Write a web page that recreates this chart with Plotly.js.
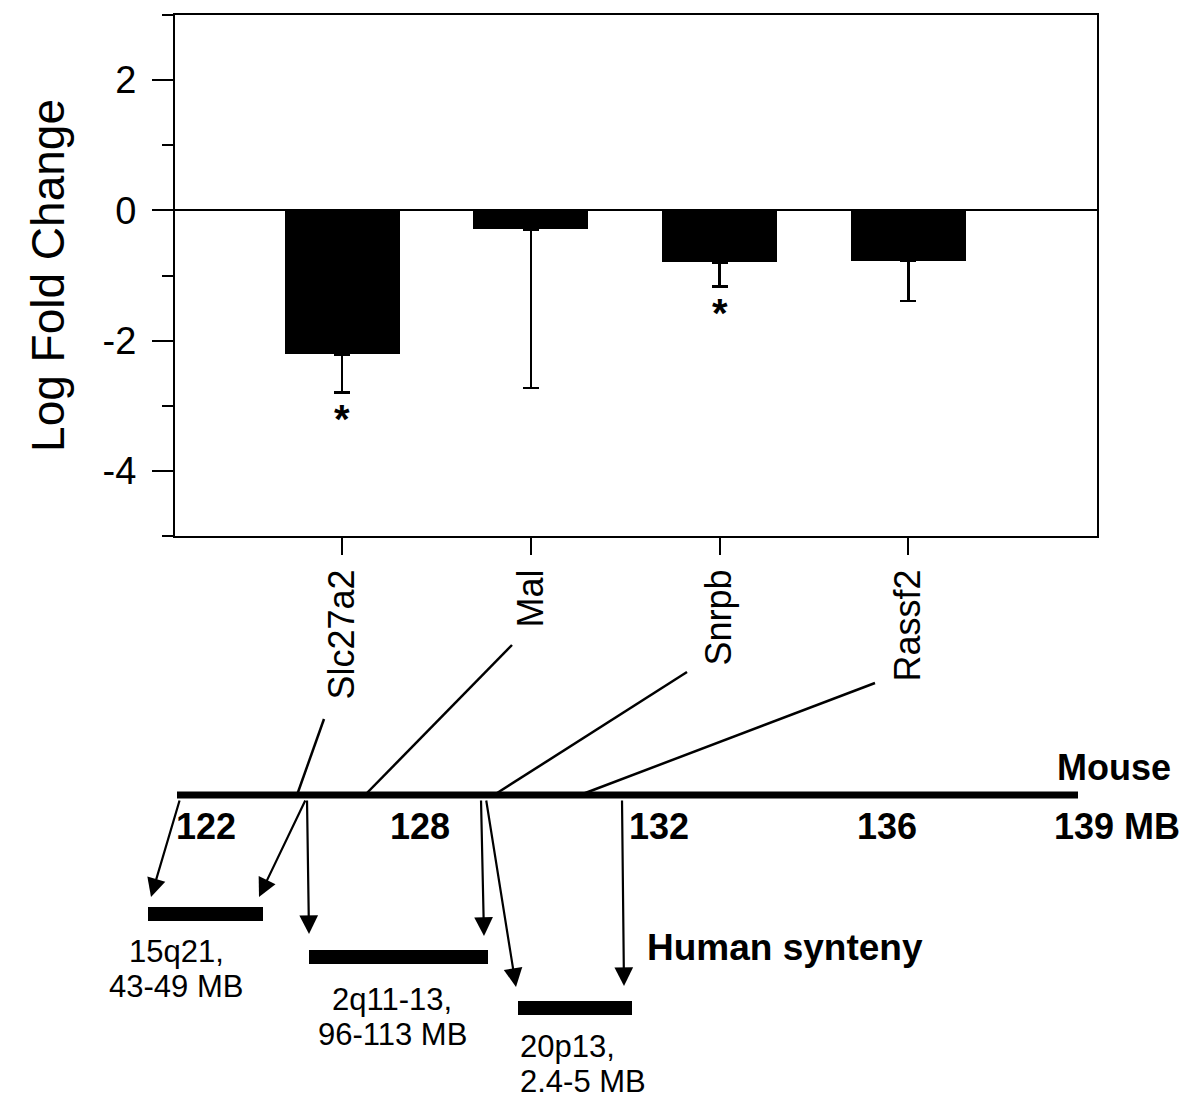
<!DOCTYPE html>
<html>
<head>
<meta charset="utf-8">
<script src="https://cdn.plot.ly/plotly-3.0.1.min.js"></script>
<style>html,body{margin:0;padding:0;background:#fff;}#chart{width:1200px;height:1118px;}</style>
</head>
<body>
<div id="chart"></div>
<script>
// ---- data ----
var genes = ['Slc27a2', 'Mal', 'Snrpb', 'Rassf2'];
var logFoldChange = [-2.21, -0.29, -0.80, -0.78];
var errorMinus = [0.59, 2.44, 0.37, 0.61];
var significant = [true, false, true, false];
var yTickValues = [-4, -2, 0, 2];
var yTickLabels = ['-4', '-2', '0', '2'];
var mouseTickLabels = ['122', '128', '132', '136', '139 MB'];
var humanRegionLine1 = ['15q21,', '2q11-13,', '20p13,'];
var humanRegionLine2 = ['43-49 MB', '96-113 MB', '2.4-5 MB'];

// ---- diagram geometry (page pixels) ----
var W = 1200, H = 1118;
function px(x) { return x / W; }
function py(y) { return 1 - y / H; }
var geo = {
  mouseLine: [177, 1078, 795],
  mouseTickX: [206, 420, 659, 887, 1117], mouseTickY: 826,
  connectors: [[324, 719, 297, 795], [512, 645, 365, 795], [687, 672, 494, 795], [875, 683, 580, 795]],
  humanBars: [[148, 263, 907, 921], [309, 488, 950, 964], [518, 632, 1001, 1015]],
  humanText: [[176, 951, 986, 'center'], [392, 999, 1034, 'center'], [518, 1046, 1081, 'left']],
  arrows: [[180, 799, 151, 897], [306, 799, 259, 897], [307, 799, 309, 934], [481, 799, 484, 936], [486, 799, 516, 987], [622, 799, 624, 986]]
};

var FONT = 'Liberation Sans, Arial, sans-serif';

var trace = {
  type: 'bar',
  x: genes,
  y: logFoldChange,
  width: 0.61,
  marker: {color: '#000', line: {width: 0}},
  error_y: {type: 'data', symmetric: false, array: genes.map(function(){return 0;}), arrayminus: errorMinus,
            color: '#000', thickness: 2.5, width: 8},
  hoverinfo: 'x+y',
  showlegend: false
};

var shapes = [];
var annotations = [];

// mouse chromosome line
shapes.push({type: 'line', xref: 'paper', yref: 'paper', x0: px(geo.mouseLine[0]), x1: px(geo.mouseLine[1]),
  y0: py(geo.mouseLine[2]), y1: py(geo.mouseLine[2]), line: {color: '#000', width: 7}});
// connectors from gene labels to mouse position
geo.connectors.forEach(function(c) {
  shapes.push({type: 'line', xref: 'paper', yref: 'paper', x0: px(c[0]), y0: py(c[1]), x1: px(c[2]), y1: py(c[3]),
    line: {color: '#000', width: 2.5}});
});
// human synteny bars
geo.humanBars.forEach(function(b) {
  shapes.push({type: 'rect', xref: 'paper', yref: 'paper', x0: px(b[0]), x1: px(b[1]), y0: py(b[3]), y1: py(b[2]),
    fillcolor: '#000', line: {width: 0}});
});
// arrows
geo.arrows.forEach(function(a) {
  annotations.push({xref: 'paper', yref: 'paper', x: px(a[2]), y: py(a[3]), text: '', showarrow: true,
    axref: 'pixel', ayref: 'pixel', ax: a[0] - a[2], ay: a[1] - a[3],
    arrowhead: 2, arrowsize: 1.7, arrowwidth: 2.2, arrowcolor: '#000', standoff: 0, startstandoff: 0});
});
// mouse tick labels
mouseTickLabels.forEach(function(t, i) {
  annotations.push({xref: 'paper', yref: 'paper', x: px(geo.mouseTickX[i]), y: py(geo.mouseTickY), text: t,
    showarrow: false, xanchor: 'center', yanchor: 'middle', font: {family: FONT, size: 36, color: '#000', weight: 'bold'}});
});
annotations.push({xref: 'paper', yref: 'paper', x: px(1173), y: py(767), text: 'Mouse', showarrow: false,
  xanchor: 'right', yanchor: 'middle', font: {family: FONT, size: 36, color: '#000', weight: 'bold'}});
annotations.push({xref: 'paper', yref: 'paper', x: px(645), y: py(947), text: 'Human synteny', showarrow: false,
  xanchor: 'left', yanchor: 'middle', font: {family: FONT, size: 37, color: '#000', weight: 'bold'}});
// human region labels
geo.humanText.forEach(function(h, i) {
  [humanRegionLine1[i], humanRegionLine2[i]].forEach(function(t, j) {
    annotations.push({xref: 'paper', yref: 'paper', x: px(h[0]), y: py(h[1 + j]), text: t, showarrow: false,
      xanchor: h[3], yanchor: 'middle', font: {family: FONT, size: 31, color: '#000'}});
  });
});
// significance stars
genes.forEach(function(g, i) {
  if (significant[i]) {
    annotations.push({xref: 'x', yref: 'y', x: g, y: logFoldChange[i] - errorMinus[i], text: '*', showarrow: false,
      xanchor: 'center', yanchor: 'top', yshift: -2, font: {family: FONT, size: 40, color: '#000', weight: 'bold'}});
  }
});

var layout = {
  width: W, height: H,
  margin: {l: 0, r: 0, t: 0, b: 0},
  paper_bgcolor: '#fff', plot_bgcolor: '#fff',
  font: {family: FONT, color: '#000'},
  xaxis: {
    domain: [px(175), px(1097)],
    type: 'category',
    range: [-0.886, 4.0],
    showline: true, mirror: true, linecolor: '#000', linewidth: 2,
    ticks: 'outside', ticklen: 17, tickwidth: 2, tickcolor: '#000',
    tickangle: -90, tickfont: {family: FONT, size: 36, color: '#000'},
    ticklabelstandoff: 0,
    showgrid: false, zeroline: false, fixedrange: true
  },
  yaxis: {
    domain: [py(536), py(15)],
    range: [-5, 3],
    tickmode: 'array', tickvals: yTickValues, ticktext: yTickLabels,
    showline: true, mirror: true, linecolor: '#000', linewidth: 2,
    ticks: 'outside', ticklen: 21, tickwidth: 2, tickcolor: '#000',
    minor: {dtick: 1, tick0: 0, ticks: 'outside', ticklen: 11, tickwidth: 2, tickcolor: '#000', showgrid: false},
    tickfont: {family: FONT, size: 38, color: '#000'},
    ticklabelstandoff: 8,
    showgrid: false,
    zeroline: true, zerolinecolor: '#000', zerolinewidth: 2,
    title: {text: 'Log Fold Change', font: {family: FONT, size: 46, color: '#000'}, standoff: 24},
    fixedrange: true
  },
  shapes: shapes,
  annotations: annotations,
  bargap: 0
};

Plotly.newPlot('chart', [trace], layout, {displayModeBar: false, staticPlot: true});
</script>
</body>
</html>
